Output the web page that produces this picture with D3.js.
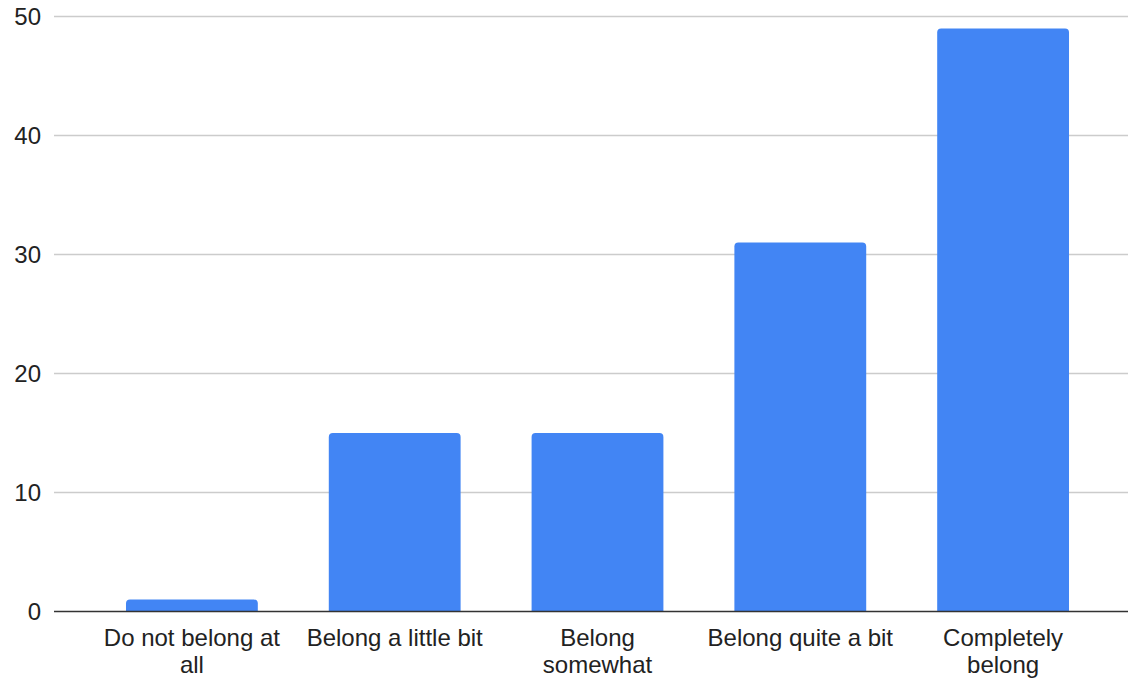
<!DOCTYPE html>
<html>
<head>
<meta charset="utf-8">
<script src="https://cdn.jsdelivr.net/npm/d3@7"></script>
<style>
  html, body { margin: 0; padding: 0; background: #fff; }
  svg { display: block; font-family: Arial, "Liberation Sans", sans-serif; }
</style>
</head>
<body>
<svg id="chart" width="1128" height="679"></svg>
<script>
// Survey responses: sense of belonging
const categories = ["Do not belong at all", "Belong a little bit", "Belong somewhat", "Belong quite a bit", "Completely belong"];
const labelLines = [["Do not belong at", "all"], ["Belong a little bit"], ["Belong", "somewhat"], ["Belong quite a bit"], ["Completely", "belong"]];
const counts = [1, 15, 15, 31, 49];
const yTicks = [0, 10, 20, 30, 40, 50];

(function () {
  const svg = d3.select("#chart");
  const gridLeft = 54, gridRight = 1128;
  const plotTop = 16.5, plotBottom = 611.5;

  const x = d3.scaleBand()
    .domain(categories)
    .range([90.5, 1104.5])
    .paddingInner(0.35)
    .paddingOuter(0.175);

  const y = d3.scaleLinear().domain([0, 50]).range([plotBottom, plotTop]);

  // gridlines
  svg.append("g")
    .selectAll("line")
    .data(yTicks.filter(d => d !== 0))
    .join("line")
    .attr("x1", gridLeft).attr("x2", gridRight)
    .attr("y1", d => y(d)).attr("y2", d => y(d))
    .attr("stroke", "#cccccc").attr("stroke-width", 1.5);

  // y tick labels
  svg.append("g")
    .selectAll("text")
    .data(yTicks)
    .join("text")
    .attr("x", 41)
    .attr("y", d => y(d))
    .attr("dy", "0.35em")
    .attr("text-anchor", "end")
    .attr("font-size", 24)
    .attr("fill", "#222")
    .text(d => d);

  // bars with rounded top corners
  const r = 4;
  function barPath(d, i) {
    const x0 = x(categories[i]), w = x.bandwidth();
    const y0 = y(d), yb = y(0);
    const rr = Math.min(r, (yb - y0) / 2);
    return `M${x0},${yb} V${y0 + rr} Q${x0},${y0} ${x0 + rr},${y0} H${x0 + w - rr} Q${x0 + w},${y0} ${x0 + w},${y0 + rr} V${yb} Z`;
  }
  svg.append("g")
    .selectAll("path")
    .data(counts)
    .join("path")
    .attr("d", (d, i) => barPath(d, i))
    .attr("fill", "#4285f4");

  // baseline
  svg.append("line")
    .attr("x1", gridLeft).attr("x2", gridRight)
    .attr("y1", y(0)).attr("y2", y(0))
    .attr("stroke", "#333").attr("stroke-width", 1.5);

  // category labels
  const lab = svg.append("g")
    .selectAll("text")
    .data(categories)
    .join("text")
    .attr("x", d => x(d) + x.bandwidth() / 2)
    .attr("y", 646)
    .attr("text-anchor", "middle")
    .attr("font-size", 24)
    .attr("fill", "#222");
  lab.selectAll("tspan")
    .data((d, i) => labelLines[i])
    .join("tspan")
    .attr("x", function () { return d3.select(this.parentNode).attr("x"); })
    .attr("dy", (d, j) => j === 0 ? 0 : 27)
    .text(d => d);
})();
</script>
</body>
</html>
